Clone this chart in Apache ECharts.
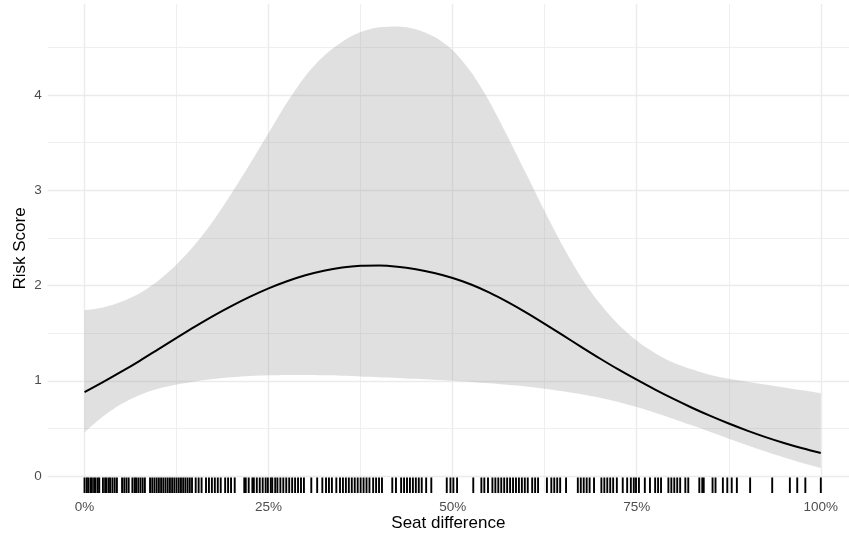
<!DOCTYPE html>
<html>
<head>
<meta charset="utf-8">
<script src="https://cdn.jsdelivr.net/npm/echarts@6/dist/echarts.min.js"></script>
<style>
html,body{margin:0;padding:0;background:#ffffff;}
#chart{width:849px;height:538px;}
</style>
</head>
<body>
<div id="chart"></div>
<script>
// ---- data (x in percent) ----
const xPct = [0, 2.5, 5, 7.5, 10, 12.5, 15, 17.5, 20, 22.5, 25, 27.5, 30, 32.5, 35, 37.5, 40, 42.5, 45, 47.5,
              50, 52.5, 55, 57.5, 60, 62.5, 65, 67.5, 70, 72.5, 75, 77.5, 80, 82.5, 85, 87.5, 90, 92.5, 95, 97.5, 100];
const fitValues = [0.880, 0.985, 1.095, 1.210, 1.330, 1.450, 1.568, 1.681, 1.786, 1.883, 1.970, 2.045, 2.108, 2.156, 2.189, 2.207,
                   2.210, 2.198, 2.171, 2.131, 2.079, 2.011, 1.926, 1.826, 1.716, 1.598, 1.476, 1.354, 1.234, 1.119, 1.011,
                   0.907, 0.809, 0.717, 0.631, 0.551, 0.477, 0.409, 0.347, 0.291, 0.241];
const upperValues = [1.74, 1.77, 1.83, 1.92, 2.05, 2.22, 2.43, 2.68, 2.97, 3.28, 3.60, 3.92, 4.20, 4.41, 4.56, 4.66, 4.71,
                     4.72, 4.69, 4.61, 4.47, 4.24, 3.93, 3.56, 3.17, 2.78, 2.41, 2.08, 1.81, 1.59, 1.42, 1.29, 1.19, 1.12,
                     1.06, 1.02, 0.99, 0.96, 0.93, 0.90, 0.87];
const lowerValues = [0.460, 0.625, 0.755, 0.850, 0.915, 0.960, 0.993, 1.018, 1.036, 1.049, 1.057, 1.061, 1.061, 1.058, 1.053,
                     1.046, 1.038, 1.030, 1.021, 1.011, 1.000, 0.988, 0.974, 0.958, 0.939, 0.916, 0.889, 0.858, 0.822, 0.776,
                     0.724, 0.665, 0.600, 0.532, 0.462, 0.392, 0.323, 0.257, 0.195, 0.138, 0.085];
const rugValues = [
  0.0, 0.3, 0.5, 0.8, 1.0, 1.3, 1.5, 1.8, 2.0, 2.5, 2.8, 3.0, 3.3, 3.5, 3.8, 4.1, 4.4,
  5.1, 5.4, 5.7, 6.0, 6.5, 6.8, 7.0, 7.3, 7.6, 7.9, 8.2, 8.9, 9.2, 9.5, 9.8, 10.1,
  10.4, 10.7, 11.0, 11.3, 11.6, 11.9, 12.2, 12.5, 12.8, 13.1, 13.4, 13.7, 14.0, 14.3, 14.6,
  15.1, 15.5, 15.9, 16.5, 16.9, 17.3, 17.7, 18.1, 18.5, 19.1, 19.5, 19.9, 20.4,
  21.7, 21.9, 22.3, 22.8, 23.0, 23.4, 23.8, 24.2, 24.6, 24.9, 25.3,
  25.5, 25.9, 26.2, 26.6, 27.0, 27.4, 27.8, 28.2, 28.6, 29.0, 29.4, 29.8,
  30.8, 31.6, 32.3, 32.8, 33.2, 33.6, 34.2,
  34.7, 35.1, 35.5, 35.9, 36.3, 36.7, 37.1, 37.5, 37.9, 38.3, 38.7, 39.2, 39.6, 40.0, 40.4,
  41.8, 42.3, 43.0, 43.4, 43.8, 44.2, 44.6, 45.0, 45.4, 45.8, 46.4, 47.1,
  49.2, 49.7, 50.1, 50.6, 52.8, 53.9, 54.3, 54.8,
  55.4, 55.8, 56.2, 56.6, 57.0, 57.4, 57.8, 58.2, 58.6, 59.0, 59.4, 59.8, 60.2,
  60.8, 61.2, 61.6, 62.8, 63.4, 63.8, 64.2, 64.6, 65.4,
  67.0, 67.4, 67.8, 68.2, 68.6, 69.2, 70.2, 70.6, 71.0, 71.4, 71.8, 72.3, 73.1, 73.7, 74.2, 74.6,
  74.9, 75.3, 76.1, 76.8, 77.5, 77.9, 78.3, 79.3, 79.7, 80.1, 80.5, 80.9, 81.6, 82.0,
  83.5, 83.9, 84.1, 85.3, 85.7, 86.7, 87.3, 87.9, 88.6, 90.4, 93.4, 95.8, 96.8, 97.9, 100.0
];
const xTicks      = [0, 25, 50, 75, 100];
const xMinorTicks = [12.5, 37.5, 62.5, 87.5];
const yTicks      = [0, 1, 2, 3, 4];
const yMinorTicks = [0.5, 1.5, 2.5, 3.5, 4.5];

// ---- chart ----
const FONT = '"Liberation Sans", Arial, Helvetica, sans-serif';
const GRID_COLOR = '#ebebeb';
const X_MIN = -5, X_MAX = 103.83;
const Y_MIN = -0.178, Y_MAX = 4.955;
const SMOOTH = 0.3;

const chart = echarts.init(document.getElementById('chart'), null, {renderer: 'canvas'});

const pairs = (vals) => xPct.map((x, i) => [x, vals[i]]);

const option = {
  animation: false,
  backgroundColor: '#ffffff',
  grid: {left: 47.7, right: 0, top: 4, bottom: 45, containLabel: false, outerBoundsMode: 'none'},
  xAxis: [
    {
      type: 'value', min: X_MIN, max: X_MAX, position: 'bottom',
      axisLine: {show: false},
      axisTick: {show: false, customValues: xTicks},
      axisLabel: {customValues: xTicks, formatter: v => v + '%', color: '#4d4d4d',
                  fontSize: 13.5, fontFamily: FONT, margin: 7},
      splitLine: {show: true, lineStyle: {color: GRID_COLOR, width: 1.4}},
      name: 'Seat difference', nameLocation: 'middle', nameGap: 22, nameMoveOverlap: false,
      nameTextStyle: {color: '#000000', fontSize: 17, fontFamily: FONT}
    },
    {
      type: 'value', min: X_MIN, max: X_MAX, position: 'bottom',
      axisLine: {show: false},
      axisTick: {show: false, customValues: xMinorTicks},
      axisLabel: {show: false, customValues: xMinorTicks},
      splitLine: {show: true, lineStyle: {color: GRID_COLOR, width: 0.8}}
    },
    {
      // same scale as axis 0; 'time' type so the ribbon stacks on y
      type: 'time', min: X_MIN, max: X_MAX, position: 'bottom', show: false
    }
  ],
  yAxis: [
    {
      type: 'value', min: Y_MIN, max: Y_MAX, position: 'left',
      axisLine: {show: false},
      axisTick: {show: false, customValues: yTicks},
      axisLabel: {customValues: yTicks, color: '#4d4d4d', fontSize: 13.5, fontFamily: FONT, margin: 6},
      splitLine: {show: true, lineStyle: {color: GRID_COLOR, width: 1.4}},
      name: 'Risk Score', nameLocation: 'middle', nameGap: 19, nameMoveOverlap: false,
      nameTextStyle: {color: '#000000', fontSize: 17, fontFamily: FONT}
    },
    {
      type: 'value', min: Y_MIN, max: Y_MAX, position: 'left',
      axisLine: {show: false},
      axisTick: {show: false, customValues: yMinorTicks},
      axisLabel: {show: false, customValues: yMinorTicks},
      splitLine: {show: true, lineStyle: {color: GRID_COLOR, width: 0.8}}
    }
  ],
  series: [
    {
      name: 'lower', type: 'line', stack: 'ci', xAxisIndex: 2, yAxisIndex: 0,
      data: pairs(lowerValues), smooth: SMOOTH, symbol: 'none', silent: true,
      lineStyle: {opacity: 0}
    },
    {
      name: 'band', type: 'line', stack: 'ci', xAxisIndex: 2, yAxisIndex: 0,
      data: xPct.map((x, i) => [x, upperValues[i] - lowerValues[i]]),
      smooth: SMOOTH, symbol: 'none', silent: true,
      lineStyle: {opacity: 0},
      areaStyle: {color: 'rgba(153,153,153,0.3)', opacity: 1}
    },
    {
      name: 'fit', type: 'line', xAxisIndex: 0, yAxisIndex: 0,
      data: pairs(fitValues), smooth: SMOOTH, symbol: 'none', silent: true,
      lineStyle: {color: '#000000', width: 2}
    },
    {
      name: 'rug', type: 'custom', xAxisIndex: 0, yAxisIndex: 0,
      data: rugValues.map(v => [v, 0]),
      encode: {x: 0, y: 1},
      silent: true,
      renderItem: (params, api) => {
        const x = api.coord([api.value(0), 0])[0];
        const bottom = params.coordSys.y + params.coordSys.height;
        return {
          type: 'line',
          shape: {x1: x, y1: bottom, x2: x, y2: bottom - 15.5},
          style: {stroke: '#000000', lineWidth: 1.9}
        };
      }
    }
  ]
};
chart.setOption(option);
</script>
</body>
</html>
